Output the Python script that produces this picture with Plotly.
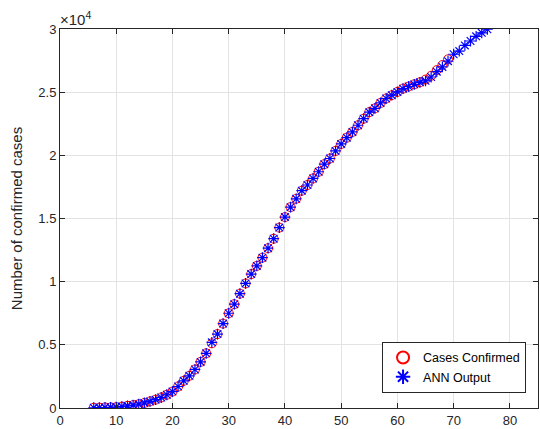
import plotly.graph_objects as go

# Daily cumulative confirmed cases (days 6-69) and the ANN fit (days 6-76)
days_confirmed = list(range(6, 70))
cases_confirmed = [
    20, 30, 40, 50, 70, 110, 170, 230, 300, 400,          # 6-15
    520, 660, 830, 1050, 1300, 1700, 2150, 2550, 3050, 3650,  # 16-25
    4330, 5120, 5850, 6680, 7500, 8220, 9050, 9860, 10600, 11250,  # 26-35
    11900, 12650, 13400, 14280, 15110, 15900, 16560, 17200, 17650, 18170,  # 36-45
    18700, 19300, 19750, 20350, 20900, 21400, 21850, 22380, 22900, 23420,  # 46-55
    23720, 24150, 24500, 24760, 25020, 25280, 25450, 25620, 25780, 26000,  # 56-65
    26300, 26750, 27150, 27600,                               # 66-69
]

days_ann = list(range(6, 77))
ann_output = [
    20, 30, 40, 50, 70, 110, 170, 230, 300, 400,
    520, 660, 830, 1050, 1300, 1700, 2150, 2550, 3050, 3650,
    4330, 5200, 5850, 6680, 7500, 8220, 9050, 9860, 10600, 11250,
    11900, 12650, 13400, 14280, 15110, 15900, 16560, 17200, 17650, 18170,
    18700, 19300, 19750, 20350, 20900, 21400, 21850, 22380, 22900, 23420,
    23720, 24150, 24500, 24760, 25020, 25280, 25450, 25620, 25780, 25900,
    26200, 26620, 27000, 27450,
    28000, 28250, 28700, 29050, 29420, 29700, 29980,          # 70-76
]

x_ticks = [0, 10, 20, 30, 40, 50, 60, 70, 80]
y_ticks = [0, 5000, 10000, 15000, 20000, 25000, 30000]
y_tick_labels = ["0", "0.5", "1", "1.5", "2", "2.5", "3"]

FONT = "Liberation Sans, Arial, Helvetica, sans-serif"
INK = "#262626"
GRID = "#e3e3e3"

fig = go.Figure()
fig.add_trace(go.Scatter(
    x=days_confirmed, y=cases_confirmed, mode="markers", name="Cases Confirmed",
    marker=dict(symbol="circle-open", size=9, color="#ff0000", line=dict(width=1)),
))
fig.add_trace(go.Scatter(
    x=days_ann, y=ann_output, mode="markers", name="ANN Output",
    marker=dict(symbol="asterisk-open", size=9, color="#0000ff", line=dict(width=1.2, color="#0000ff")),
))

axis_common = dict(
    showline=True, linecolor=INK, linewidth=1, mirror="ticks",
    ticks="inside", ticklen=5, tickcolor=INK, tickwidth=1,
    showgrid=True, gridcolor=GRID, gridwidth=1, zeroline=False,
    tickfont=dict(family=FONT, size=13, color=INK),
)

fig.update_xaxes(range=[0, 85], tickvals=x_ticks, **axis_common)
fig.update_yaxes(
    range=[0, 30000], tickvals=y_ticks, ticktext=y_tick_labels,
    title=dict(text="Number of confirmed cases", font=dict(family=FONT, size=15, color=INK), standoff=12),
    **axis_common,
)

# Exponent shown above the y axis, as the tick labels are in units of 10^4
fig.add_annotation(
    text="×10<sup>4</sup>", xref="paper", yref="paper", x=0.0, y=1.0,
    xanchor="left", yanchor="bottom", showarrow=False, yshift=-1, xshift=-2,
    font=dict(family=FONT, size=15, color=INK),
)

fig.update_layout(
    width=540, height=429,
    margin=dict(l=60, r=2, t=29, b=21),
    paper_bgcolor="white", plot_bgcolor="white",
    font=dict(family=FONT, color=INK),
    legend=dict(
        x=0.975, y=0.04, xanchor="right", yanchor="bottom",
        bgcolor="white", bordercolor=INK, borderwidth=1,
        font=dict(family=FONT, size=12.5, color="#000000"),
        tracegroupgap=0, itemsizing="constant",
    ),
    showlegend=True,
)

fig.write_html("out.html")
